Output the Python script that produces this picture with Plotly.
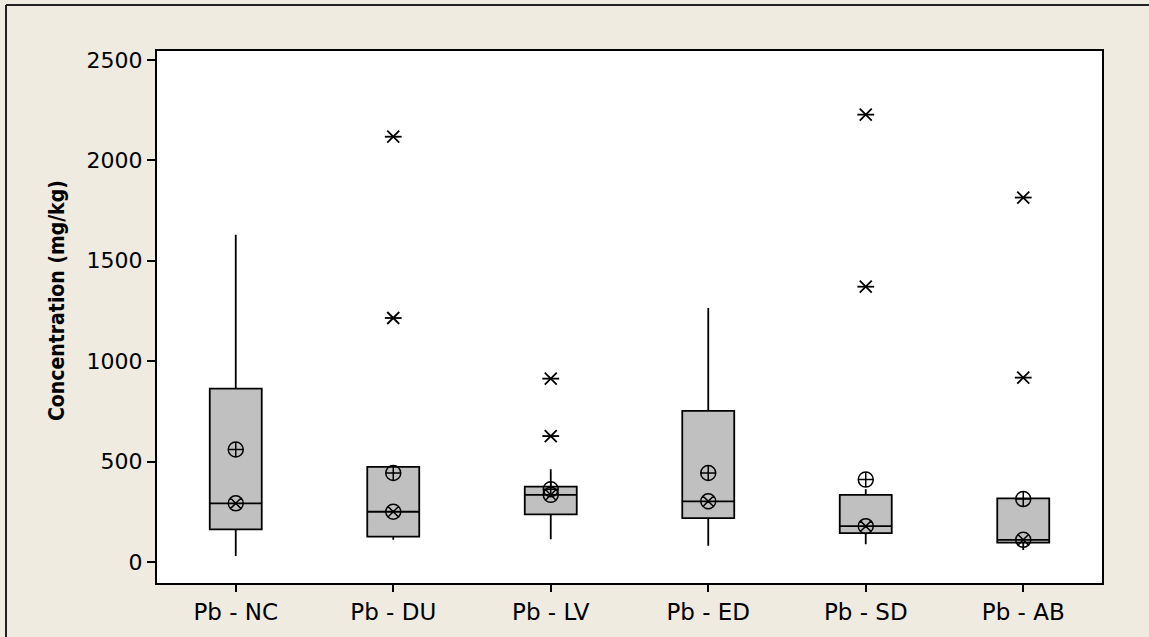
import plotly.graph_objects as go

# Lead (Pb) concentration summaries per site
categories = ["Pb - NC", "Pb - DU", "Pb - LV", "Pb - ED", "Pb - SD", "Pb - AB"]
lower_whisker = [30, 110, 113, 80, 88, 60]
q1 = [162, 126, 237, 218, 143, 96]
median = [292, 250, 334, 302, 178, 110]
q3 = [863, 473, 375, 752, 334, 317]
upper_whisker = [1630, 473, 462, 1265, 362, 317]
mean = [560, 443, 362, 443, 410, 313]

outlier_cats = ["Pb - DU", "Pb - DU", "Pb - LV", "Pb - LV", "Pb - SD", "Pb - SD", "Pb - AB", "Pb - AB"]
outlier_vals = [1215, 2118, 627, 913, 1371, 2228, 918, 1815]

y_ticks = [0, 500, 1000, 1500, 2000, 2500]

fig = go.Figure()

fig.add_trace(go.Box(
    x=categories,
    q1=q1, median=median, q3=q3,
    lowerfence=lower_whisker, upperfence=upper_whisker,
    width=0.33,
    whiskerwidth=0,
    boxpoints=False,
    fillcolor="#C0C0C0",
    line=dict(color="black", width=1.8),
    showlegend=False,
    hoverinfo="skip",
))

# Mean symbol (circle with cross)
fig.add_trace(go.Scatter(
    x=categories, y=mean, mode="markers",
    marker=dict(symbol="circle-cross-open", size=15, color="black",
                line=dict(color="black", width=1.5)),
    showlegend=False,
))

# Median symbol (circle with x)
fig.add_trace(go.Scatter(
    x=categories, y=median, mode="markers",
    marker=dict(symbol="circle-x-open", size=15, color="black",
                line=dict(color="black", width=1.5)),
    showlegend=False,
))

# Outliers drawn as six-armed asterisks
for sym in ["x-thin-open", "line-ew-open"]:
    fig.add_trace(go.Scatter(
        x=outlier_cats, y=outlier_vals, mode="markers",
        marker=dict(symbol=sym, size=12, color="black",
                    line=dict(color="black", width=1.8)),
        showlegend=False,
    ))

L, R, T, B = 157, 47, 51, 54
W, H = 1149, 637
pw, ph = W - L - R, H - T - B


def px_x(x):
    return (x - L) / pw


def px_y(y):
    return (H - B - y) / ph


border = dict(color="#222222", width=2)

fig.update_layout(
    width=W, height=H,
    margin=dict(l=L, r=R, t=T, b=B),
    paper_bgcolor="#EFEBE0",
    plot_bgcolor="white",
    font=dict(family="DejaVu Sans", size=22, color="black"),
    xaxis=dict(
        type="category", categoryorder="array", categoryarray=categories,
        range=[-0.5, 5.5],
        showline=True, linecolor="black", linewidth=2, mirror=True,
        ticks="outside", ticklen=7, tickwidth=1.5, tickcolor="black",
        showgrid=False, tickfont=dict(size=23),
    ),
    yaxis=dict(
        range=[-105, 2545],
        tickvals=y_ticks, ticktext=[str(v) for v in y_ticks],
        showline=True, linecolor="black", linewidth=2, mirror=True,
        ticks="outside", ticklen=8, tickwidth=1.5, tickcolor="black",
        showgrid=False, zeroline=False, tickfont=dict(size=22),
    ),
    annotations=[dict(
        text="<b>Concentration (mg/kg)</b>",
        xref="paper", yref="paper",
        x=px_x(57), y=px_y(301),
        xanchor="center", yanchor="middle",
        textangle=-90, showarrow=False,
        font=dict(family="DejaVu Sans Condensed", size=21, color="black"),
    )],
    shapes=[
        dict(type="line", xref="paper", yref="paper",
             x0=px_x(6), x1=px_x(W), y0=px_y(5), y1=px_y(5), line=border),
        dict(type="line", xref="paper", yref="paper",
             x0=px_x(6), x1=px_x(6), y0=px_y(5), y1=px_y(H), line=border),
    ],
)

fig.write_html("out.html")
